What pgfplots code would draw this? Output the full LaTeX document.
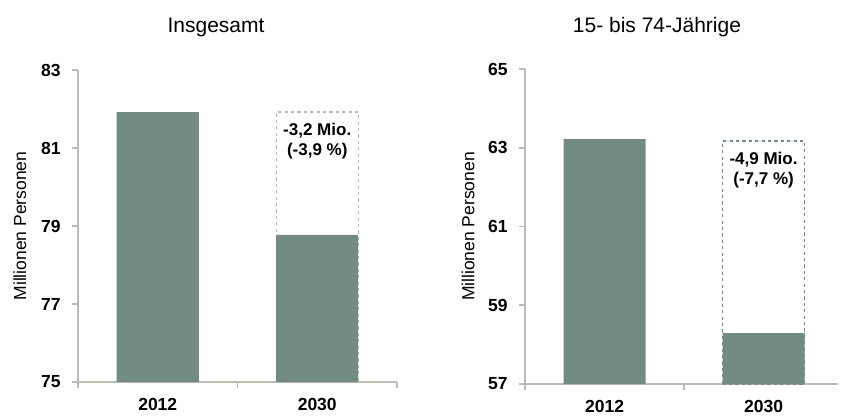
\documentclass[border=0pt]{standalone}
\usepackage{pgfplots}
\pgfplotsset{compat=1.18}
\usepackage{fontspec}
\setmainfont{Liberation Sans}
\definecolor{barc}{RGB}{115,140,130}
\definecolor{axc}{RGB}{190,186,180}
\definecolor{dashg}{RGB}{185,185,185}
\pgfplotsset{
  myax/.style={
    scale only axis,
    axis x line=bottom, axis y line=left,
    axis line style={-, draw=axc, line width=0.9bp},
    tick style={draw=axc, line width=0.8bp},
    tick align=outside,
    major tick length=3bp,
    xmin=-0.5,
    xtick={-0.5,0.5,1.5},
    xticklabels={},
    extra x ticks={0,1},
    extra x tick labels={2012,2030},
    extra x tick style={major tick length=0pt, tick style={draw=none}},
    x tick label style={font=\fontsize{8.75bp}{10bp}\selectfont\bfseries, yshift=-4.5bp},
    y tick label style={font=\fontsize{8.75bp}{10bp}\selectfont\bfseries, inner sep=0pt, xshift=-5.5bp},
    /pgf/number format/assume math mode=true,
    ylabel style={font=\fontsize{8.75bp}{10bp}\selectfont, at={(axis description cs:-0.182,0.5)}, anchor=center, rotate=0},
    ylabel={Millionen Personen},
    clip=true,
  }
}
\begin{document}
\begin{tikzpicture}
\path[use as bounding box] (0,0) rectangle (420.5bp,-208.5bp);
% left panel
\begin{axis}[myax, at={(39bp,-191bp)}, anchor=south west,
  width=159.5bp, height=156bp, xmax=1.5,
  ymin=75, ymax=83, ytick={75,77,79,81,83}]
\addplot[ybar, bar width=41bp, bar shift=0pt, fill=none, draw=dashg, line width=0.7bp, dash pattern=on 1.6bp off 1.6bp] coordinates {(1,81.92)};
\addplot[ybar, bar width=41bp, bar shift=0pt, fill=barc, draw=none] coordinates {(0,81.92) (1,78.77)};
\node[align=center, font=\fontsize{8.5bp}{10bp}\selectfont\bfseries] at (axis cs:1,81.18) {-3,2 Mio.\\(-3,9 \%)};
\end{axis}
\node[anchor=base, font=\fontsize{10.5bp}{12bp}\selectfont] at (108bp,-16bp) {Insgesamt};
% right panel
\begin{axis}[myax, at={(262.5bp,-192bp)}, anchor=south west,
  width=156.5bp, height=157.5bp, xmax=1.468,
  xtick={-0.5,0.5},
  ymin=57, ymax=65, ytick={57,59,61,63,65}]
\addplot[ybar, bar width=41bp, bar shift=0pt, fill=none, draw=barc, line width=0.7bp, dash pattern=on 1.6bp off 1.6bp] coordinates {(1,63.17)};
\addplot[ybar, bar width=41bp, bar shift=0pt, fill=barc, draw=none] coordinates {(0,63.22) (1,58.29)};
\node[align=center, font=\fontsize{8.5bp}{10bp}\selectfont\bfseries] at (axis cs:1,62.43) {-4,9 Mio.\\(-7,7 \%)};
\end{axis}
\node[anchor=base, font=\fontsize{10.5bp}{12bp}\selectfont] at (328.5bp,-16bp) {15- bis 74-Jährige};
\end{tikzpicture}
\end{document}
